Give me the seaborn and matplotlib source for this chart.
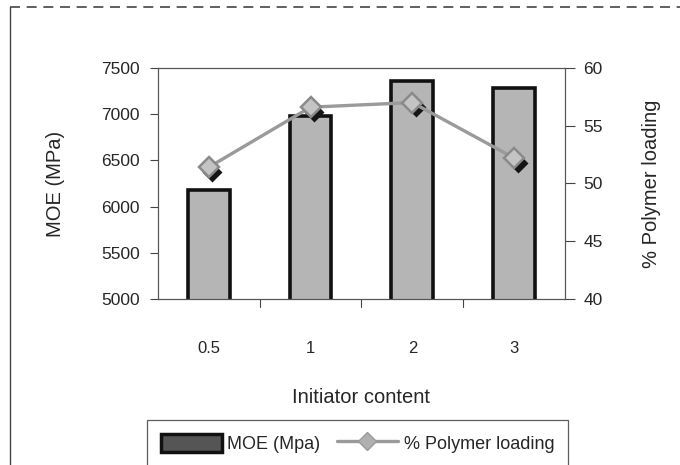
import matplotlib
matplotlib.use("Agg")
import matplotlib.pyplot as plt
import matplotlib.transforms as mtransforms
from matplotlib.lines import Line2D
from matplotlib.patches import Patch
import seaborn as sns
import pandas as pd

# MOE and polymer loading vs initiator content
initiator = ["0.5", "1", "2", "3"]
moe = [6180, 6980, 7360, 7280]
polymer_loading = [51.4, 56.6, 57.0, 52.2]

sns.set_style("white")
plt.rcParams["font.family"] = ["Liberation Sans", "DejaVu Sans"]

df = pd.DataFrame({"Initiator": initiator, "MOE": moe, "Loading": polymer_loading})

fig = plt.figure(figsize=(6.8, 4.65), dpi=100)
ax = fig.add_axes([0.232, 0.357, 0.599, 0.497])

sns.barplot(data=df, x="Initiator", y="MOE", ax=ax, color="#b5b5b5",
            width=0.41, edgecolor="#111111", linewidth=2.6, saturation=1)
for p in ax.patches:
    p.set_facecolor("#b5b5b5")
ax.set_ylim(5000, 7500)
ax.set_yticks([5000, 5500, 6000, 6500, 7000, 7500])
ax.set_xlim(-0.5, 3.5)
ax.set_ylabel("MOE (MPa)", fontsize=14.5, labelpad=26)
ax.set_xlabel("Initiator content", fontsize=14.5, labelpad=23)
ax.tick_params(axis="y", left=True, direction="out", length=6, width=0.8,
               labelsize=12.5, pad=7, color="#444444")
ax.tick_params(axis="x", bottom=False, labelsize=12, pad=27)
# boundary ticks between categories
for xb in [0.5, 1.5, 2.5]:
    ax.plot([xb, xb], [0, -0.035], transform=ax.get_xaxis_transform(),
            color="#444444", lw=0.8, clip_on=False)
for s in ax.spines.values():
    s.set_color("#555555")
    s.set_linewidth(0.8)

ax2 = ax.twinx()
# shadow markers
sns.pointplot(data=df, x="Initiator", y="Loading", ax=ax2, color="#151515",
              markers="D", linestyles="none", errorbar=None,
              markersize=8.5)
shadow_off = mtransforms.ScaledTranslation(2.5 / 72, -3.5 / 72, fig.dpi_scale_trans)
for ln in ax2.lines:
    ln.set_transform(ln.get_transform() + shadow_off)
sns.pointplot(data=df, x="Initiator", y="Loading", ax=ax2, color="#9a9a9a",
              markers="D", errorbar=None, markersize=10, linewidth=2.4,
              markerfacecolor="#c4c4c4", markeredgecolor="#8a8a8a")
ax2.set_ylim(40, 60)
ax2.set_yticks([40, 45, 50, 55, 60])
ax2.set_xlim(-0.5, 3.5)
ax2.set_ylabel("% Polymer loading", fontsize=14.5, labelpad=28)
ax2.set_xlabel("")
ax2.tick_params(axis="y", right=True, direction="out", length=7, width=0.8,
                labelsize=12.5, pad=6, color="#444444")
for s in ax2.spines.values():
    s.set_color("#555555")
    s.set_linewidth(0.8)

handles = [Patch(facecolor="#555555", edgecolor="#111111", linewidth=2.5),
           Line2D([0], [0], color="#9a9a9a", lw=2.4, marker="D",
                  markersize=9, markerfacecolor="#b0b0b0", markeredgecolor="#9a9a9a")]
leg = fig.legend(handles, ["MOE (Mpa)", "% Polymer loading"], ncol=2,
                 loc="upper left", bbox_to_anchor=(147 / 680, 1 - 420 / 465),
                 borderaxespad=0, frameon=True, fancybox=False, fontsize=13,
                 handlelength=3.4, handleheight=1.2, columnspacing=0.9,
                 handletextpad=0.3, borderpad=0.75)
leg.get_frame().set_edgecolor("#333333")
leg.get_frame().set_linewidth(0.9)

# outer frame of the original picture
fig.add_artist(Line2D([0.015, 1.0], [0.985, 0.985], color="#444444", lw=1.2,
                      linestyle=(0, (6, 4))))
fig.add_artist(Line2D([0.015, 0.015], [0.0, 0.985], color="#444444", lw=1.0))

fig.savefig("out.png", dpi=100)
